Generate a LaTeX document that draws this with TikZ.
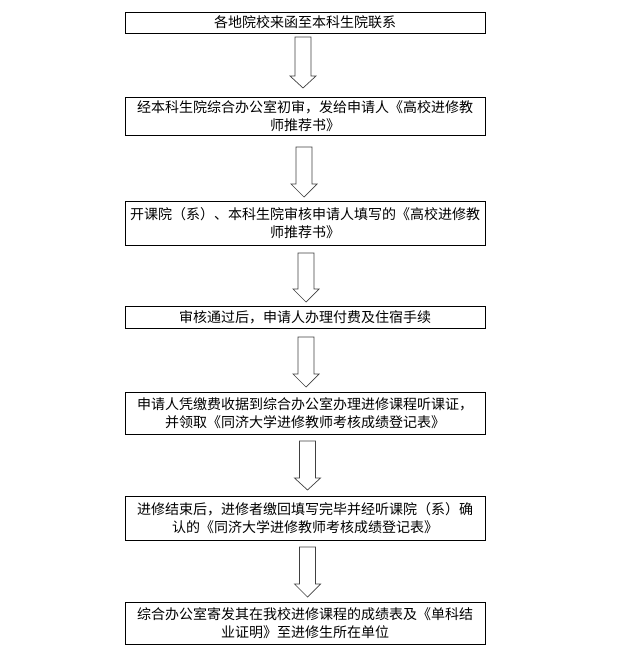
\documentclass[tikz,border=0pt]{standalone}
\usepackage{fontspec}
\setmainfont{Noto Sans CJK SC}
\begin{document}
\begin{tikzpicture}[x=1pt,y=-1pt,
  stepbox/.style={draw=black,line width=0.9pt,minimum width=360pt,inner sep=0pt,
    align=center,font=\fontsize{14pt}{18pt}\selectfont,text=black},
  blockarrow/.style={draw=black!75,line width=0.7pt,fill=white,line join=miter}]
\useasboundingbox (0,0) rectangle (637,655);
\node[stepbox,minimum height=21pt] (b1) at (305,22.5) {各地院校来函至本科生院联系};
\node[stepbox,minimum height=38pt] (b2) at (305,116) {经本科生院综合办公室初审，发给申请人《高校进修教\\师推荐书》};
\node[stepbox,minimum height=44pt] (b3) at (305,223) {开课院（系）、本科生院审核申请人填写的《高校进修教\\师推荐书》};
\node[stepbox,minimum height=22pt] (b4) at (305,317) {审核通过后，申请人办理付费及住宿手续};
\node[stepbox,minimum height=42pt] (b5) at (305,413) {申请人凭缴费收据到综合办公室办理进修课程听课证，\\并领取《同济大学进修教师考核成绩登记表》};
\node[stepbox,minimum height=44pt] (b6) at (305,518) {进修结束后，进修者缴回填写完毕并经听课院（系）确\\认的《同济大学进修教师考核成绩登记表》};
\node[stepbox,minimum height=42pt] (b7) at (305,623) {综合办公室寄发其在我校进修课程的成绩表及《单科结\\业证明》至进修生所在单位};
% block arrows: centre x, shaft top, head start, tip
\newcommand\myblockarrow[4]{%
  \draw[blockarrow] (#1-8,#2) -- (#1+8,#2) -- (#1+8,#3) -- (#1+13,#3) -- (#1,#4)
    -- (#1-13,#3) -- (#1-8,#3) -- cycle;}
\myblockarrow{303}{37}{76}{88}
\myblockarrow{304}{147}{184}{197}
\myblockarrow{306}{253}{289}{302}
\myblockarrow{306}{337}{374}{387}
\myblockarrow{307.5}{441}{478}{490}
\myblockarrow{307.5}{547}{584}{597}
\end{tikzpicture}
\end{document}
